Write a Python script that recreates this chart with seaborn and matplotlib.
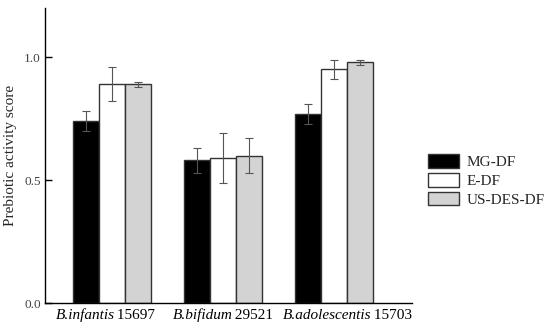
import matplotlib
matplotlib.use("Agg")
import matplotlib.pyplot as plt
from matplotlib.offsetbox import TextArea, HPacker, AnnotationBbox
import seaborn as sns
import pandas as pd
import numpy as np

species = ["B.infantis", "B.bifidum", "B.adolescentis"]
strain_ids = ["15697", "29521", "15703"]
strains = [f"{a} {b}" for a, b in zip(species, strain_ids)]
treatments = ["MG-DF", "E-DF", "US-DES-DF"]
mg_df = [0.74, 0.58, 0.77]
e_df = [0.89, 0.59, 0.95]
us_df = [0.89, 0.60, 0.98]
mg_err = [0.04, 0.05, 0.04]
e_err = [0.07, 0.10, 0.04]
us_err = [0.01, 0.07, 0.01]
yticks = [0.0, 0.5, 1.0]

sns.set_theme(style="ticks")
plt.rcParams['font.family'] = ['Liberation Serif', 'DejaVu Serif']

rows = []
errs = []
for t, vals, ev in zip(treatments, [mg_df, e_df, us_df], [mg_err, e_err, us_err]):
    for s, v, e in zip(strains, vals, ev):
        rows.append({"strain": s, "treatment": t, "score": v})
        errs.append(e)
df = pd.DataFrame(rows)

fig = plt.figure(figsize=(5.5, 3.26), dpi=100)
ax = fig.add_axes([45/550, 23/326, (412-45)/550, (303-8)/326])
palette = {"MG-DF": "#000000", "E-DF": "#ffffff", "US-DES-DF": "#d3d3d3"}
sns.barplot(data=df, x="strain", y="score", hue="treatment", order=strains,
            hue_order=treatments, palette=palette, width=0.7, errorbar=None,
            edgecolor="#333333", linewidth=1.0, saturation=1, ax=ax, legend=True)

# error bars at patch centers
bars = [p for p in ax.patches if p.get_height() > 0][:9]
for p, e in zip(bars, errs):
    xc = p.get_x() + p.get_width() / 2
    ax.errorbar(xc, p.get_height(), yerr=e, fmt='none', ecolor="#555555",
                elinewidth=0.8, capsize=2.8, capthick=0.8, zorder=5)

ax.set_xlim(-0.605, 2.70)
ax.set_ylim(0, 1.2)
ax.set_yticks(yticks)
ax.set_yticklabels([f"{v:.1f}" for v in yticks], color="#444444", fontsize=9.5)
ax.tick_params(axis='y', direction='in', length=5, width=1, color="black", pad=3)
ax.tick_params(axis='x', length=0, labelbottom=False)
ax.set_xlabel("")
ax.set_ylabel("Prebiotic activity score", fontsize=11, labelpad=5)
for s in ["top", "right"]:
    ax.spines[s].set_visible(False)
for s in ["left", "bottom"]:
    ax.spines[s].set_linewidth(1.0)
    ax.spines[s].set_color("black")

# mixed italic / roman category labels
label_shift = [-4.7, 0, 9.4]  # offsets in points
for i, (sp, sid) in enumerate(zip(species, strain_ids)):
    box = HPacker(children=[
        TextArea(sp, textprops=dict(fontsize=11, fontstyle="italic", color="black")),
        TextArea(" " + sid, textprops=dict(fontsize=11, color="black"))],
        align="baseline", pad=0, sep=-1)
    ab = AnnotationBbox(box, (i, 0), xycoords=("data", "axes fraction"),
                        xybox=(label_shift[i], -4), boxcoords="offset points",
                        box_alignment=(0.5, 1), frameon=False, pad=0)
    ax.add_artist(ab)

handles, labels = ax.get_legend_handles_labels()
ax.legend(handles, labels, loc="upper left", bbox_to_anchor=(428/550, 1-154/326),
          bbox_transform=fig.transFigure, frameon=False, fontsize=11,
          handlelength=2.0, handleheight=1.0, labelspacing=0.25,
          handletextpad=0.5, borderpad=0, borderaxespad=0)

fig.savefig("out.png", dpi=100)
